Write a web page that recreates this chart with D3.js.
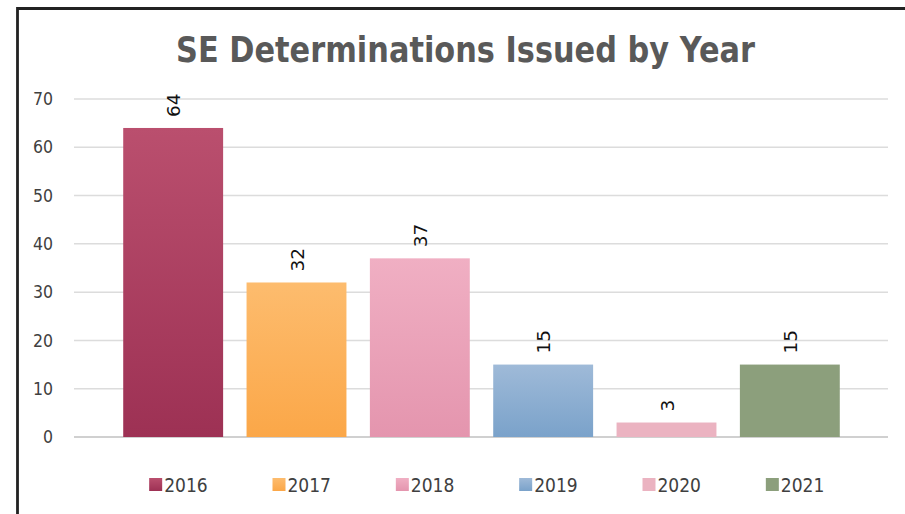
<!DOCTYPE html>
<html><head><meta charset="utf-8">
<script src="https://cdn.jsdelivr.net/npm/d3@7"></script>
<style>body{margin:0;background:#fff}svg{display:block}</style>
</head><body>
<svg id="chart" width="905" height="514"></svg>
<script>
const categories = ["2016","2017","2018","2019","2020","2021"];
const values = [64, 32, 37, 15, 3, 15];
const yTicks = [0,10,20,30,40,50,60,70];
const colorsTop = ["#ba4f6e","#fdbc6e","#f0afc3","#9fbad8","#ebb3c1","#8c9f7c"];
const colorsBottom = ["#9d3154","#fba748","#e495ae","#7aa2ca","#ebb3c1","#8c9f7c"];
const title = "SE Determinations Issued by Year";

const svg = d3.select("#chart");
// frame
svg.append("path").attr("d","M17.5,520 L17.5,8.5 L920,8.5")
  .attr("fill","none").attr("stroke","#222").attr("stroke-width",2.8);

const defs = svg.append("defs");
categories.forEach((c,i)=>{
  const g = defs.append("linearGradient").attr("id","g"+i).attr("x1",0).attr("y1",0).attr("x2",0).attr("y2",1);
  g.append("stop").attr("offset","0%").attr("stop-color",colorsTop[i]);
  g.append("stop").attr("offset","100%").attr("stop-color",colorsBottom[i]);
});

svg.append("text").attr("x",465.5).attr("y",62).attr("text-anchor","middle")
  .attr("font-family","'DejaVu Sans', sans-serif").attr("font-weight","bold")
  .attr("font-size",36).attr("fill","#595959")
  .attr("textLength",579).attr("lengthAdjust","spacingAndGlyphs").text(title);

const y = d3.scaleLinear().domain([0,70]).range([437,99]);
const x = d3.scaleBand().domain(categories).range([111.5,851.5]).paddingInner(0.19).paddingOuter(0.095);

// gridlines
svg.append("g").selectAll("line").data(yTicks).join("line")
  .attr("x1",74).attr("x2",888).attr("y1",d=>y(d)).attr("y2",d=>y(d))
  .attr("stroke",d=>d===0?"#d0d0d0":"#dcdcdc").attr("stroke-width",d=>d===0?2:1.5);

// y axis labels
const yAxis = d3.axisLeft(y).tickValues(yTicks).tickSize(0).tickPadding(0);
const ga = svg.append("g").attr("transform","translate(53,0)").call(yAxis);
ga.select(".domain").remove();
ga.selectAll("text").attr("font-family","'DejaVu Sans Condensed','DejaVu Sans',sans-serif")
  .attr("font-size",17.5).attr("fill","#404040");

// bars
svg.append("g").selectAll("rect").data(values).join("rect")
  .attr("x",(d,i)=>x(categories[i])).attr("width",x.bandwidth())
  .attr("y",d=>y(d)).attr("height",d=>y(0)-y(d))
  .attr("fill",(d,i)=>"url(#g"+i+")");

// value labels
svg.append("g").selectAll("text").data(values).join("text")
  .attr("transform",(d,i)=>`translate(${x(categories[i])+x.bandwidth()/2+7},${y(d)-11}) rotate(-90)`)
  .attr("text-anchor","start")
  .attr("font-family","'DejaVu Sans', sans-serif").attr("font-size",18.5).attr("fill","#111")
  .text(d=>d);

// legend
const leg = svg.append("g").selectAll("g").data(categories).join("g")
  .attr("transform",(d,i)=>`translate(${x(d)+x.bandwidth()/2-24},0)`);
leg.append("rect").attr("x",0).attr("y",478).attr("width",13).attr("height",13)
  .attr("fill",(d,i)=>"url(#g"+i+")");
leg.append("text").attr("x",15).attr("y",492)
  .attr("font-family","'DejaVu Sans Condensed','DejaVu Sans',sans-serif")
  .attr("font-size",19).attr("fill","#404040").text(d=>d);
</script>
</body></html>
